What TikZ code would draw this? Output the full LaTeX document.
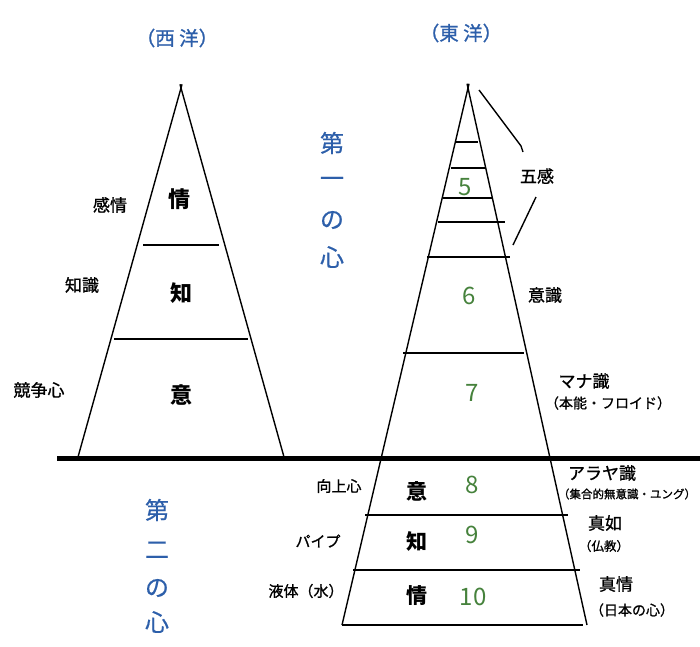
\documentclass[tikz,border=0pt]{standalone}
\usepackage{fontspec}
\setmainfont{Noto Sans CJK JP}
\newfontfamily\medfont[FakeBold=1]{Noto Sans CJK JP}
\newfontfamily\lightbold[FakeBold=0.6]{Noto Sans CJK JP}
\usetikzlibrary{calc}
\definecolor{tblue}{RGB}{45,95,170}
\definecolor{tgreen}{RGB}{70,130,60}
\begin{document}
\begin{tikzpicture}[x=1pt,y=-1pt,line width=1.4pt,
  every node/.style={inner sep=0pt,outer sep=0pt},
  ttl/.style={text=tblue,font=\medfont\fontsize{19.5}{19.5}\selectfont},
  vch/.style={text=tblue,font=\lightbold\fontsize{24}{24}\selectfont},
  innr/.style={font=\fontsize{22}{22}\selectfont\bfseries},
  innrs/.style={font=\fontsize{21}{21}\selectfont\bfseries},
  num/.style={text=tgreen,font=\fontsize{24}{24}\selectfont},
  side/.style={font=\medfont\fontsize{17}{17}\selectfont},
  sidem/.style={font=\medfont\fontsize{15}{15}\selectfont},
  subl/.style={font=\medfont\fontsize{14}{14}\selectfont},
  subs/.style={font=\medfont\fontsize{12.5}{12.5}\selectfont},
  subt/.style={font=\medfont\fontsize{11.5}{11.5}\selectfont}]
\useasboundingbox (0,0) rectangle (700,646);
% ---- left triangle (West)
\coordinate (LA) at (181,88);
\coordinate (LL) at (78,457);
\coordinate (LR) at (284,457);
\draw (LL) -- ($(LL)!1.01!(LA)$);
\draw (LR) -- ($(LR)!1.01!(LA)$);
\draw (143,245) -- (219,245);
\draw (114,339) -- (248,339);
% ---- thick bar
\draw[line width=5pt] (57,458) -- (700,458);
% ---- right triangle (East)
\coordinate (RA) at (468,88);
\coordinate (RL) at (342,625);
\coordinate (RR) at (587,625);
\draw (RL) -- ($(RL)!1.008!(RA)$);
\draw (RR) -- ($(RR)!1.008!(RA)$);
\draw (456,142) -- (478,142);
\draw (451,168) -- (486,168);
\draw (443,198) -- (493,198);
\draw (438,222) -- (505,222);
\draw (427,257) -- (510,257);
\draw (403,353) -- (524,353);
\draw (365,515) -- (568,515);
\draw (353,570) -- (580,570);
\draw (342,625) -- (583,625);
% bracket for 五感
\draw (479,90) -- (521,146) -- (523,152);
\draw (536,197) -- (513,245);
% ---- titles
\node[ttl] (tw) at (177,38) {（西 洋）};
\node[ttl] (te) at (461,33) {（東 洋）};
% ---- vertical blue labels
\node[vch] (v1a) at (332,143) {第};
\node[vch] (v1b) at (332,182) {一};
\node[vch] (v1c) at (332,220) {の};
\node[vch] (v1d) at (332,257) {心};
\node[vch] (v2a) at (157,510) {第};
\node[vch] (v2b) at (157,550) {二};
\node[vch] (v2c) at (157,588) {の};
\node[vch] (v2d) at (157,622) {心};
% ---- left triangle labels
\node[innr] (wj) at (179,199) {情};
\node[innr] (wc) at (181,293) {知};
\node[innr] (wi) at (181,395) {意};
\node[side] (kj) at (110,205) {感情};
\node[side] (ch) at (82,285) {知識};
\node[side] (ks) at (39,390) {競争心};
% ---- right triangle numbers
\node[num] (n5) at (465,187) {5};
\node[num] (n6) at (469,296) {6};
\node[num] (n7) at (472,393) {7};
\node[num] (n8) at (472,485) {8};
\node[num] (n9) at (472,535) {9};
\node[num] (n10) at (473,597) {10};
% ---- right triangle inner lower
\node[innrs] (ei) at (417,491) {意};
\node[innrs] (ec) at (417,541) {知};
\node[innrs] (ej) at (417,596) {情};
% ---- right labels
\node[side] (gk) at (537,176) {五感};
\node[side] (is) at (545,295) {意識};
\node[side] (mn) at (584,381) {マナ識};
\node[subl] (mns) at (608,403) {（本能・フロイド）};
\node[side] (ar) at (602,473) {アラヤ識};
\node[subt] (ars) at (627,494) {（集合的無意識・ユング）};
\node[side] (sn) at (605,523) {真如};
\node[subs] (sns) at (604,546) {（仏教）};
\node[side] (sj) at (616,584) {真情};
\node[subl] (sjs) at (632,610) {（日本の心）};
% ---- left labels lower
\node[sidem] (kz) at (339,486) {向上心};
\node[sidem] (pp) at (318,541) {パイプ};
\node[sidem] (ek) at (306,591) {液体（水）};
\end{tikzpicture}
\end{document}
